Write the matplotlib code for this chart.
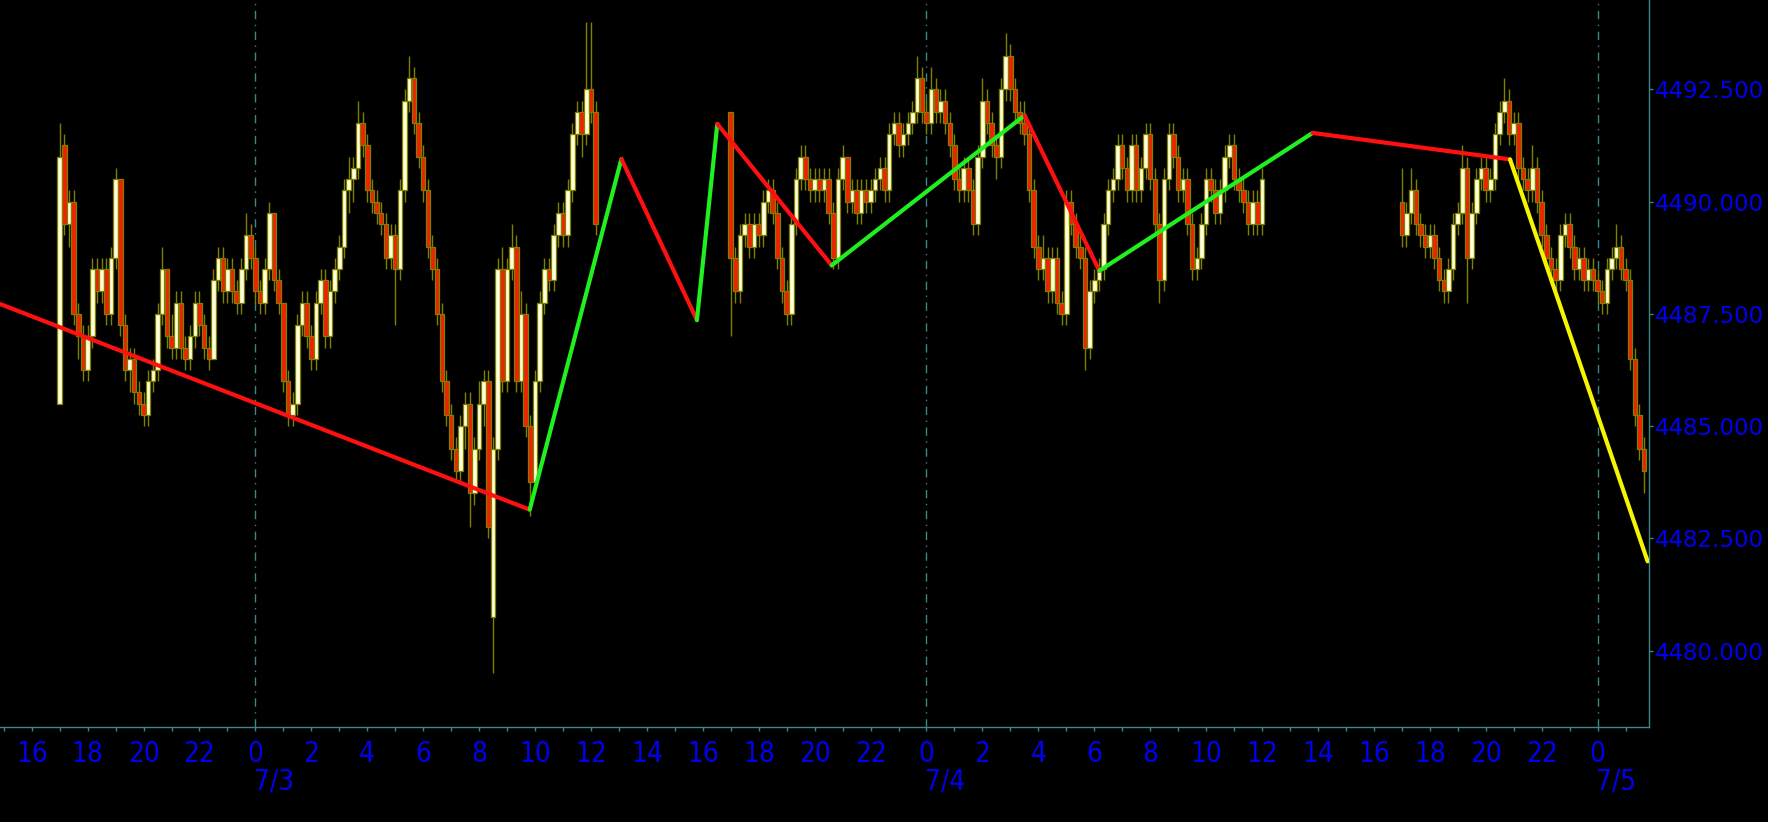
import matplotlib
matplotlib.use("Agg")
import matplotlib.pyplot as plt
import matplotlib.transforms as mtransforms
from matplotlib import font_manager as fm
import numpy as np

# ---------------- data ----------------
# time axis: hours counted from 7/3 00:00
SESSION_START_HOURS = [-7.0, 17.0, 41.0]   # 7/2 17:00, 7/3 17:00, 7/4 17:00
BAR_MINUTES = 10

S1_OPEN = [4485.5, 4491.25, 4489.5, 4490.0, 4487.5, 4487.0, 4486.25, 4487.0, 4488.5, 4488.0,
           4488.5, 4487.5, 4488.75, 4490.5, 4487.25, 4486.25, 4486.5, 4485.75, 4485.5, 4485.25,
           4486.0, 4486.25, 4487.5, 4488.5, 4487.0, 4486.75, 4487.75, 4486.75, 4486.5, 4487.0,
           4487.75, 4487.25, 4486.75, 4486.5, 4488.25, 4488.75, 4488.0, 4488.5, 4488.0, 4487.75,
           4488.5, 4489.25, 4488.75, 4488.0, 4487.75, 4488.5, 4489.75, 4488.25, 4487.75, 4486.0,
           4485.25, 4485.5, 4487.25, 4487.75, 4487.0, 4486.5, 4487.75, 4488.25, 4487.0, 4488.0,
           4488.5, 4489.0, 4490.25, 4490.5, 4490.75, 4491.75, 4491.25, 4490.25, 4490.0, 4489.75,
           4489.5, 4488.75, 4489.25, 4488.5, 4490.25, 4492.25, 4492.75, 4491.75, 4491.0, 4490.25,
           4489.0, 4488.5, 4487.5, 4486.0, 4485.25, 4484.5, 4484.0, 4485.0, 4485.5, 4483.5,
           4484.5, 4485.5, 4486.0, 4480.75, 4484.5, 4488.5, 4486.0, 4488.5, 4489.0, 4486.0,
           4487.5, 4485.0, 4483.75, 4486.0, 4487.75, 4488.5, 4488.25, 4489.25, 4489.75, 4489.25,
           4490.25, 4491.5, 4492.0, 4491.5, 4492.5, 4492.0]
S1_HIGH = [4491.75, 4491.5, 4490.25, 4490.25, 4487.75, 4487.25, 4487.25, 4488.75, 4488.75, 4488.75,
           4488.75, 4489.0, 4490.75, 4490.5, 4487.5, 4486.75, 4486.75, 4486.0, 4485.75, 4486.25,
           4486.5, 4487.75, 4489.0, 4488.5, 4487.5, 4488.0, 4488.0, 4487.0, 4487.25, 4488.0,
           4488.0, 4487.5, 4487.0, 4488.5, 4489.0, 4489.0, 4488.75, 4488.75, 4488.25, 4488.75,
           4489.75, 4489.5, 4489.0, 4488.25, 4488.75, 4490.0, 4489.75, 4488.5, 4487.75, 4486.25,
           4485.75, 4487.5, 4488.0, 4488.0, 4487.25, 4488.0, 4488.5, 4488.5, 4488.25, 4488.75,
           4489.25, 4490.5, 4491.0, 4491.0, 4492.25, 4492.0, 4491.5, 4490.5, 4490.25, 4490.0,
           4489.75, 4489.5, 4489.5, 4490.5, 4492.5, 4493.25, 4493.0, 4492.0, 4491.25, 4490.5,
           4489.25, 4488.75, 4487.75, 4486.25, 4485.5, 4484.75, 4485.25, 4485.75, 4485.75, 4484.75,
           4486.0, 4486.25, 4486.25, 4484.75, 4488.75, 4489.0, 4488.75, 4489.5, 4489.25, 4488.0,
           4487.75, 4485.25, 4486.25, 4488.0, 4488.75, 4488.75, 4489.5, 4490.0, 4490.0, 4490.5,
           4491.75, 4492.25, 4492.25, 4494.0, 4494.0, 4492.25]
S1_LOW = [4485.5, 4489.25, 4489.0, 4487.25, 4486.5, 4486.0, 4486.0, 4486.75, 4487.75, 4487.75,
          4487.25, 4487.25, 4488.5, 4487.0, 4486.0, 4485.75, 4485.5, 4485.25, 4485.0, 4485.0,
          4485.75, 4486.0, 4487.25, 4486.75, 4486.5, 4486.5, 4486.5, 4486.25, 4486.25, 4486.75,
          4487.0, 4486.5, 4486.25, 4486.5, 4488.0, 4487.75, 4487.75, 4487.75, 4487.5, 4487.5,
          4488.25, 4488.5, 4487.75, 4487.5, 4487.5, 4488.25, 4488.0, 4487.5, 4485.75, 4485.0,
          4485.0, 4485.25, 4487.0, 4486.75, 4486.25, 4486.25, 4487.5, 4486.75, 4486.75, 4487.75,
          4488.25, 4488.75, 4489.75, 4490.0, 4490.5, 4491.0, 4490.0, 4489.75, 4489.5, 4489.25,
          4488.5, 4488.5, 4487.25, 4488.25, 4490.0, 4492.0, 4491.5, 4490.75, 4490.0, 4488.75,
          4488.25, 4487.25, 4485.75, 4485.0, 4484.25, 4483.75, 4483.75, 4484.5, 4482.75, 4483.25,
          4484.25, 4485.0, 4482.5, 4479.5, 4484.25, 4485.75, 4485.75, 4488.25, 4485.75, 4485.75,
          4484.75, 4483.0, 4483.5, 4485.75, 4487.5, 4488.0, 4488.0, 4489.0, 4489.0, 4489.0,
          4490.0, 4491.25, 4491.0, 4491.25, 4491.75, 4489.25]
S1_CLOSE = [4491.0, 4489.5, 4490.0, 4487.5, 4487.0, 4486.25, 4487.0, 4488.5, 4488.0, 4488.5,
            4487.5, 4488.75, 4490.5, 4487.25, 4486.25, 4486.5, 4485.75, 4485.5, 4485.25, 4486.0,
            4486.25, 4487.5, 4488.5, 4487.0, 4486.75, 4487.75, 4486.75, 4486.5, 4487.0, 4487.75,
            4487.25, 4486.75, 4486.5, 4488.25, 4488.75, 4488.0, 4488.5, 4488.0, 4487.75, 4488.5,
            4489.25, 4488.75, 4488.0, 4487.75, 4488.5, 4489.75, 4488.25, 4487.75, 4486.0, 4485.25,
            4485.5, 4487.25, 4487.75, 4487.0, 4486.5, 4487.75, 4488.25, 4487.0, 4488.0, 4488.5,
            4489.0, 4490.25, 4490.5, 4490.75, 4491.75, 4491.25, 4490.25, 4490.0, 4489.75, 4489.5,
            4488.75, 4489.25, 4488.5, 4490.25, 4492.25, 4492.75, 4491.75, 4491.0, 4490.25, 4489.0,
            4488.5, 4487.5, 4486.0, 4485.25, 4484.5, 4484.0, 4485.0, 4485.5, 4483.5, 4484.5,
            4485.5, 4486.0, 4482.75, 4484.5, 4488.5, 4486.0, 4488.5, 4489.0, 4486.0, 4487.5,
            4485.0, 4483.75, 4486.0, 4487.75, 4488.5, 4488.25, 4489.25, 4489.75, 4489.25, 4490.25,
            4491.5, 4492.0, 4491.5, 4492.5, 4492.0, 4489.5]

S2_OPEN = [4492.0, 4488.75, 4488.0, 4489.25, 4489.5, 4489.0, 4489.5, 4489.25, 4490.0, 4490.25,
           4489.75, 4488.75, 4488.0, 4487.5, 4489.5, 4490.5, 4491.0, 4490.5, 4490.25, 4490.5,
           4490.25, 4490.5, 4489.75, 4488.75, 4490.5, 4491.0, 4490.0, 4490.25, 4489.75, 4490.25,
           4490.0, 4490.25, 4490.5, 4490.75, 4490.25, 4491.5, 4491.75, 4491.25, 4491.5, 4491.75,
           4492.0, 4492.75, 4492.0, 4491.75, 4492.5, 4492.0, 4492.25, 4491.75, 4491.25, 4490.5,
           4490.25, 4490.75, 4490.25, 4489.5, 4491.0, 4492.25, 4491.75, 4491.25, 4491.0, 4492.5,
           4493.25, 4492.5, 4492.0, 4491.75, 4491.5, 4490.25, 4489.0, 4488.5, 4488.75, 4488.0,
           4488.75, 4487.75, 4487.5, 4490.0, 4489.5, 4489.0, 4488.75, 4486.75, 4488.0, 4488.25,
           4488.5, 4489.5, 4490.25, 4490.5, 4491.25, 4490.75, 4490.25, 4491.25, 4490.25, 4490.75,
           4491.5, 4490.5, 4489.5, 4488.25, 4490.5, 4491.5, 4491.0, 4490.25, 4490.5, 4489.5,
           4488.5, 4488.75, 4489.5, 4490.5, 4490.25, 4489.75, 4490.25, 4491.0, 4491.25, 4490.5,
           4490.25, 4490.0, 4489.5, 4490.0, 4489.5]
S2_HIGH = [4492.0, 4489.0, 4489.5, 4489.75, 4489.75, 4489.75, 4489.75, 4490.25, 4490.5, 4490.5,
           4490.0, 4489.0, 4488.25, 4489.75, 4490.75, 4491.25, 4491.25, 4490.75, 4490.75, 4490.75,
           4490.75, 4490.75, 4490.0, 4490.75, 4491.25, 4491.0, 4490.5, 4490.5, 4490.5, 4490.5,
           4490.5, 4490.75, 4491.0, 4491.0, 4491.75, 4492.0, 4492.0, 4491.75, 4492.0, 4492.25,
           4493.25, 4493.0, 4492.25, 4493.0, 4492.75, 4492.5, 4492.5, 4492.0, 4491.5, 4490.75,
           4491.0, 4491.0, 4490.5, 4491.25, 4492.75, 4492.5, 4492.0, 4491.5, 4492.75, 4493.75,
           4493.5, 4492.75, 4492.25, 4492.25, 4491.75, 4490.5, 4489.25, 4489.25, 4489.0, 4489.0,
           4489.0, 4488.0, 4490.25, 4490.25, 4489.75, 4489.25, 4489.0, 4488.25, 4488.5, 4488.75,
           4489.75, 4490.5, 4490.75, 4491.5, 4491.5, 4491.0, 4491.5, 4491.5, 4491.0, 4491.75,
           4491.75, 4490.75, 4489.75, 4490.75, 4491.75, 4491.75, 4491.25, 4490.75, 4490.75, 4489.75,
           4489.0, 4489.75, 4490.75, 4490.75, 4490.5, 4490.5, 4491.25, 4491.5, 4491.5, 4490.75,
           4490.5, 4490.25, 4490.25, 4490.25, 4490.75]
S2_LOW = [4487.0, 4487.75, 4487.75, 4489.0, 4488.75, 4488.75, 4489.0, 4489.0, 4489.75, 4489.5,
          4488.5, 4487.75, 4487.25, 4487.25, 4489.25, 4490.25, 4490.25, 4490.0, 4490.0, 4490.0,
          4490.0, 4489.5, 4488.5, 4488.5, 4490.25, 4489.75, 4489.75, 4489.5, 4489.5, 4489.75,
          4489.75, 4490.0, 4490.25, 4490.0, 4490.0, 4491.25, 4491.0, 4491.0, 4491.25, 4491.5,
          4491.75, 4491.75, 4491.5, 4491.5, 4491.75, 4491.75, 4491.5, 4491.0, 4490.25, 4490.0,
          4490.0, 4490.0, 4489.25, 4489.25, 4490.75, 4491.5, 4491.0, 4490.5, 4490.75, 4492.25,
          4492.25, 4491.75, 4491.5, 4491.25, 4490.0, 4488.75, 4488.25, 4488.25, 4487.75, 4487.75,
          4487.5, 4487.25, 4487.25, 4489.25, 4488.75, 4488.5, 4486.25, 4486.5, 4487.75, 4488.0,
          4488.25, 4489.25, 4490.0, 4490.25, 4490.5, 4490.0, 4490.0, 4490.0, 4490.0, 4490.5,
          4490.25, 4489.25, 4487.75, 4488.0, 4490.25, 4490.75, 4490.0, 4490.0, 4489.25, 4488.25,
          4488.25, 4488.5, 4489.25, 4490.0, 4489.5, 4489.5, 4490.0, 4490.75, 4490.25, 4490.0,
          4489.75, 4489.25, 4489.25, 4489.25, 4489.25]
S2_CLOSE = [4488.75, 4488.0, 4489.25, 4489.5, 4489.0, 4489.5, 4489.25, 4490.0, 4490.25, 4489.75,
            4488.75, 4488.0, 4487.5, 4489.5, 4490.5, 4491.0, 4490.5, 4490.25, 4490.5, 4490.25,
            4490.5, 4489.75, 4488.75, 4490.5, 4491.0, 4490.0, 4490.25, 4489.75, 4490.25, 4490.0,
            4490.25, 4490.5, 4490.75, 4490.25, 4491.5, 4491.75, 4491.25, 4491.5, 4491.75, 4492.0,
            4492.75, 4492.0, 4491.75, 4492.5, 4492.0, 4492.25, 4491.75, 4491.25, 4490.5, 4490.25,
            4490.75, 4490.25, 4489.5, 4491.0, 4492.25, 4491.75, 4491.25, 4491.0, 4492.5, 4493.25,
            4492.5, 4492.0, 4491.75, 4491.5, 4490.25, 4489.0, 4488.5, 4488.75, 4488.0, 4488.75,
            4487.75, 4487.5, 4490.0, 4489.5, 4489.0, 4488.75, 4486.75, 4488.0, 4488.25, 4488.5,
            4489.5, 4490.25, 4490.5, 4491.25, 4490.75, 4490.25, 4491.25, 4490.25, 4490.75, 4491.5,
            4490.5, 4489.5, 4488.25, 4490.5, 4491.5, 4491.0, 4490.25, 4490.5, 4489.5, 4488.5,
            4488.75, 4489.5, 4490.5, 4490.25, 4489.75, 4490.25, 4491.0, 4491.25, 4490.5, 4490.25,
            4490.0, 4489.5, 4490.0, 4489.5, 4490.5]

S3_OPEN = [4490.0, 4489.25, 4489.75, 4490.25, 4489.5, 4489.25, 4489.0, 4489.25, 4488.75, 4488.25,
           4488.0, 4488.5, 4489.5, 4489.75, 4490.75, 4488.75, 4489.75, 4490.5, 4490.75, 4490.25,
           4490.5, 4491.5, 4492.0, 4492.25, 4491.5, 4491.75, 4490.75, 4490.5, 4490.25, 4490.75,
           4490.0, 4489.25, 4488.75, 4488.5, 4488.25, 4489.25, 4489.5, 4489.0, 4488.5, 4488.75,
           4488.25, 4488.5, 4488.25, 4488.0, 4487.75, 4488.5, 4488.75, 4489.0, 4488.5, 4488.25,
           4486.5, 4485.25, 4484.5]
S3_HIGH = [4490.75, 4490.0, 4490.75, 4490.5, 4489.75, 4489.5, 4489.5, 4489.5, 4489.0, 4488.5,
           4488.75, 4489.75, 4490.0, 4491.25, 4491.0, 4490.0, 4490.75, 4491.0, 4491.0, 4490.75,
           4491.75, 4492.25, 4492.75, 4492.5, 4492.0, 4492.0, 4491.0, 4490.75, 4491.25, 4491.0,
           4490.25, 4489.5, 4489.0, 4488.75, 4489.5, 4489.75, 4489.75, 4489.25, 4489.0, 4489.0,
           4488.75, 4488.75, 4488.5, 4488.25, 4488.75, 4489.0, 4489.5, 4489.25, 4488.75, 4488.5,
           4486.75, 4485.5, 4484.75]
S3_LOW = [4489.0, 4489.0, 4489.5, 4489.25, 4489.0, 4488.75, 4488.75, 4488.5, 4488.0, 4487.75,
          4487.75, 4488.25, 4489.25, 4489.5, 4487.75, 4488.5, 4489.5, 4490.25, 4490.0, 4490.0,
          4490.25, 4491.25, 4491.75, 4491.25, 4491.25, 4490.5, 4490.25, 4490.0, 4490.0, 4489.75,
          4489.0, 4488.5, 4488.25, 4488.0, 4488.0, 4489.0, 4488.75, 4488.25, 4488.25, 4488.0,
          4488.0, 4488.0, 4487.75, 4487.5, 4487.5, 4488.25, 4488.5, 4488.25, 4488.0, 4486.25,
          4485.0, 4484.25, 4483.5]
S3_CLOSE = [4489.25, 4489.75, 4490.25, 4489.5, 4489.25, 4489.0, 4489.25, 4488.75, 4488.25, 4488.0,
            4488.5, 4489.5, 4489.75, 4490.75, 4488.75, 4489.75, 4490.5, 4490.75, 4490.25, 4490.5,
            4491.5, 4492.0, 4492.25, 4491.5, 4491.75, 4490.75, 4490.5, 4490.25, 4490.75, 4490.0,
            4489.25, 4488.75, 4488.5, 4488.25, 4489.25, 4489.5, 4489.0, 4488.5, 4488.75, 4488.25,
            4488.5, 4488.25, 4488.0, 4487.75, 4488.5, 4488.75, 4489.0, 4488.5, 4488.25, 4486.5,
            4485.25, 4484.5, 4484.0]

# zigzag pivots (hours from 7/3 00:00, price) and segment colours
ZZ_HOURS = [-9.13, 9.81, 13.09, 15.79, 16.52, 20.61, 27.51, 30.18, 37.81, 44.87, 49.79]
ZZ_PRICES = [4487.72, 4483.14, 4490.95, 4487.36, 4491.73, 4488.58, 4491.92, 4488.46, 4491.53, 4490.94, 4481.99]
ZZ_COLORS = ["#ff1010", "#20f020", "#ff1010", "#20f020", "#ff1010", "#20f020",
             "#ff1010", "#20f020", "#ff1010", "#f5f500"]

Y_TICKS = [4480.0, 4482.5, 4485.0, 4487.5, 4490.0, 4492.5]
DAY_MARKS = [0, 24, 48]
DAY_LABELS = ["7/3", "7/4", "7/5"]
X_RANGE = (-9.134, 49.84)
Y_RANGE = (4478.30, 4494.49)

# ---------------- style ----------------
BG = "black"
TEAL = "#3f8585"
BLUE = "#0000ee"
UP = "#ffffd8"
DOWN = "#f02000"
EDGE = "#808000"

has_cond = any(f.name == "DejaVu Sans" and str(f.stretch) in ("condensed", "semi-condensed", "75", "87.5")
               for f in fm.fontManager.ttflist)
if any(f.name == "Liberation Sans Narrow" for f in fm.fontManager.ttflist):
    XPROPS = dict(fontfamily="Liberation Sans Narrow", fontsize=22)
elif has_cond:
    XPROPS = dict(fontfamily="DejaVu Sans", fontstretch="condensed", fontsize=20)
else:
    XPROPS = dict(fontfamily="DejaVu Sans", fontsize=19)

W, H = 1768, 822
fig = plt.figure(figsize=(W / 100, H / 100), dpi=100)
fig.patch.set_facecolor(BG)
ax = fig.add_axes([0, 95 / H, 1649 / W, 727 / H])
ax.set_facecolor(BG)

# midnight separators
for d in DAY_MARKS:
    ax.axvline(d, color=TEAL, lw=1.0, ls=(0, (6, 4, 1, 4)), zorder=1)

# candles
sessions = [(SESSION_START_HOURS[0], S1_OPEN, S1_HIGH, S1_LOW, S1_CLOSE),
            (SESSION_START_HOURS[1], S2_OPEN, S2_HIGH, S2_LOW, S2_CLOSE),
            (SESSION_START_HOURS[2], S3_OPEN, S3_HIGH, S3_LOW, S3_CLOSE)]
step = BAR_MINUTES / 60.0
for start, o, h, l, c in sessions:
    o, h, l, c = map(np.asarray, (o, h, l, c))
    t = start + np.arange(len(c)) * step
    up = c >= o
    ax.vlines(t, l, h, color=EDGE, lw=1.0, zorder=2)
    ax.bar(t, np.abs(c - o), bottom=np.minimum(o, c), width=step * 0.97,
           color=np.where(up, UP, DOWN), edgecolor=EDGE, linewidth=0.9, zorder=3)

# zigzag
for i, col in enumerate(ZZ_COLORS):
    ax.plot(ZZ_HOURS[i:i + 2], ZZ_PRICES[i:i + 2], color=col, lw=3.0,
            solid_capstyle="round", zorder=5)

ax.set_xlim(*X_RANGE)
ax.set_ylim(*Y_RANGE)

for s in ("top", "left"):
    ax.spines[s].set_visible(False)
for s in ("bottom", "right"):
    ax.spines[s].set_color(TEAL)
    ax.spines[s].set_linewidth(1.0)

# y axis on the right
ax.yaxis.tick_right()
ax.set_yticks(Y_TICKS)
ax.set_yticklabels([f"{v:.3f}" for v in Y_TICKS], fontfamily="DejaVu Sans", fontsize=16.5)
ax.tick_params(axis="y", colors=TEAL, labelcolor=BLUE, length=3, width=1, pad=1.5)

# x axis: hourly ticks, labels every 2 hours
hours = list(range(-9, 50))
ax.set_xticks(hours)
ax.set_xticklabels([str(hh % 24) if hh % 2 == 0 else "" for hh in hours], **XPROPS)
ax.tick_params(axis="x", colors=TEAL, labelcolor=BLUE, length=3, width=1, pad=6)

trans = mtransforms.blended_transform_factory(ax.transData, ax.transAxes)
for d, lab in zip(DAY_MARKS, DAY_LABELS):
    ax.text(d - 0.05, -0.056, lab, transform=trans, ha="left", va="top",
            color=BLUE, clip_on=False, **XPROPS)

fig.savefig("out.png", dpi=100, facecolor=BG)
